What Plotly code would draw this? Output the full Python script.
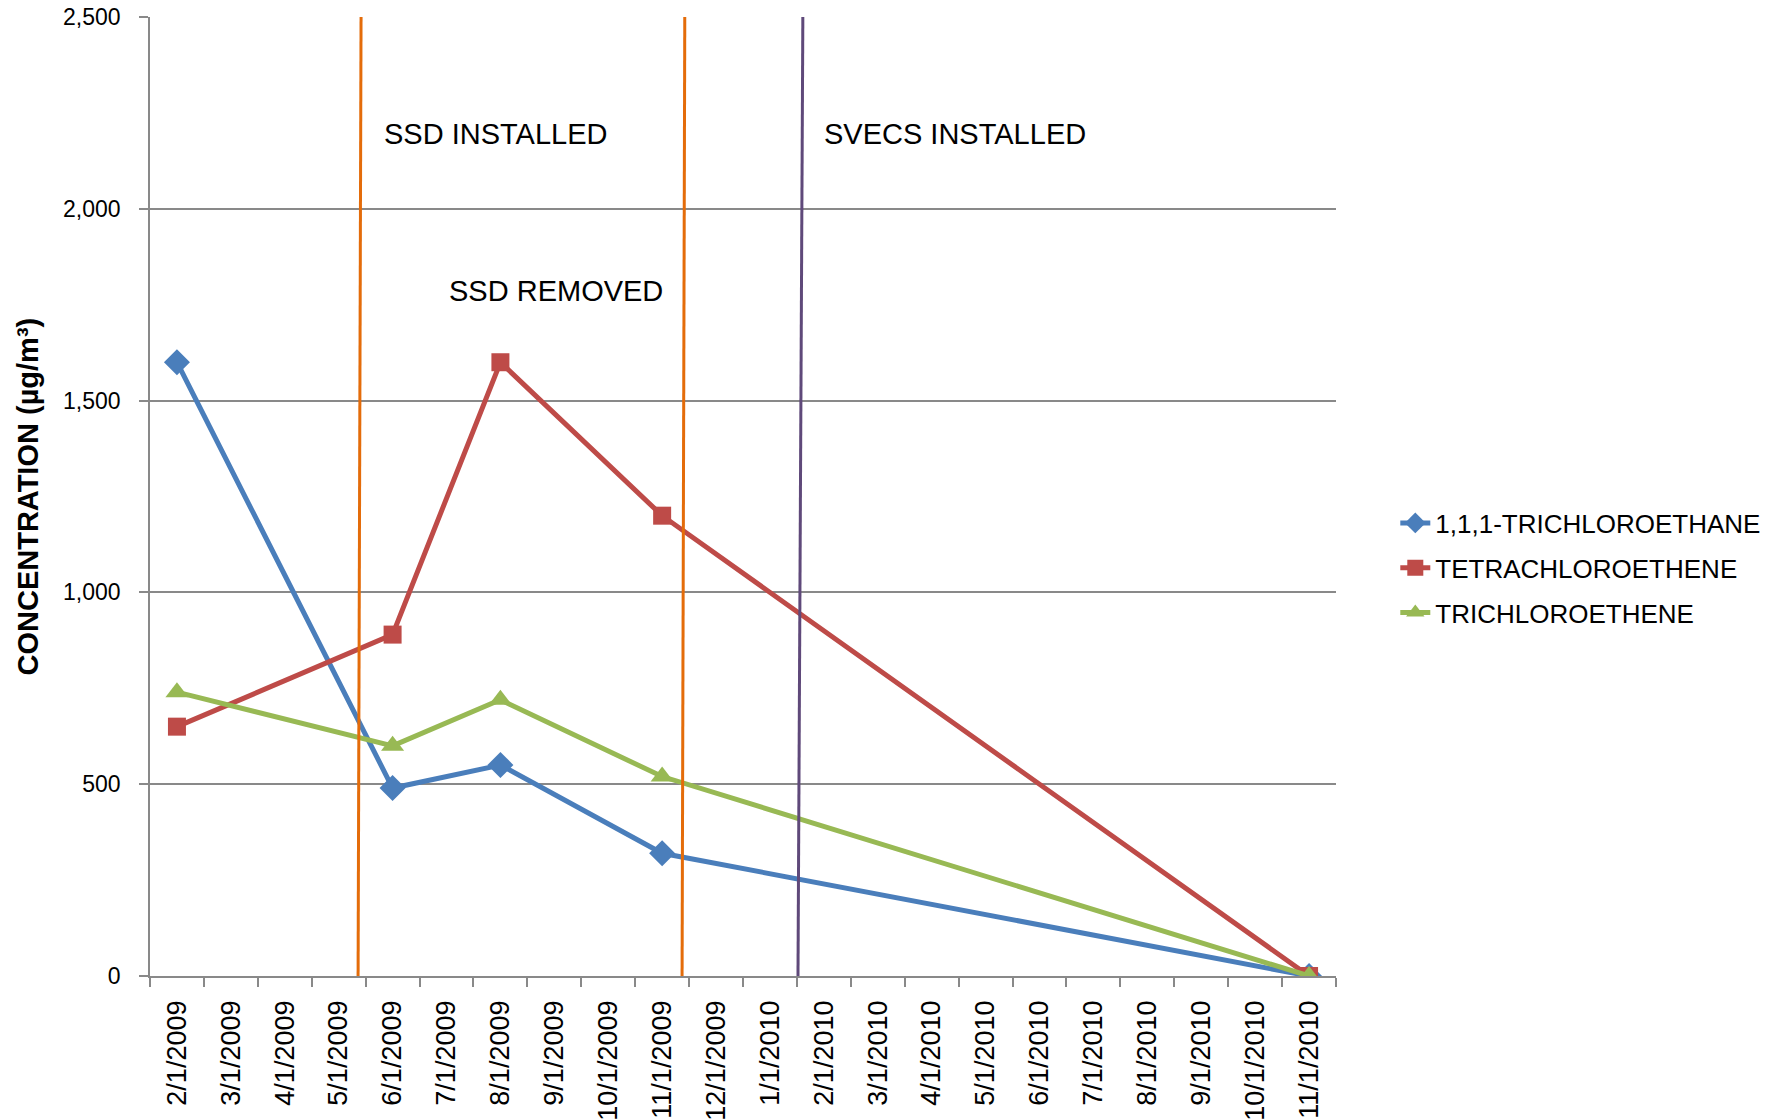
import plotly.graph_objects as go

# Monthly category labels along the x axis
month_labels = [
    "2/1/2009", "3/1/2009", "4/1/2009", "5/1/2009", "6/1/2009", "7/1/2009",
    "8/1/2009", "9/1/2009", "10/1/2009", "11/1/2009", "12/1/2009", "1/1/2010",
    "2/1/2010", "3/1/2010", "4/1/2010", "5/1/2010", "6/1/2010", "7/1/2010",
    "8/1/2010", "9/1/2010", "10/1/2010", "11/1/2010",
]

# Sampling events and measured concentrations (ug/m3)
sample_dates = ["2/1/2009", "6/1/2009", "8/1/2009", "11/1/2009", "11/1/2010"]
trichloroethane_111 = [1600, 490, 550, 320, 0]
tetrachloroethene = [650, 890, 1600, 1200, 0]
trichloroethene = [740, 600, 720, 520, 0]

series_names = ["1,1,1-TRICHLOROETHANE", "TETRACHLOROETHENE", "TRICHLOROETHENE"]
series_values = [trichloroethane_111, tetrachloroethene, trichloroethene]
series_colors = ["#4A7EBB", "#BE4B48", "#98B954"]
series_symbols = ["diamond", "square", "triangle-up"]
series_sizes = [20, 18, 20]

y_ticks = [0, 500, 1000, 1500, 2000, 2500]

# Remediation milestones: (bottom x, top x, colour) in category-index units
event_lines = [
    (3.36, 3.415, "#E46C0A"),
    (9.37, 9.42, "#E46C0A"),
    (11.52, 11.61, "#5F497A"),
]
event_labels = ["SSD INSTALLED", "SSD REMOVED", "SVECS INSTALLED"]

FONT = "Liberation Sans, Arial, sans-serif"

fig = go.Figure()

# invisible carrier so every month appears on the category axis
fig.add_trace(go.Scatter(
    x=month_labels, y=[None] * len(month_labels), mode="lines",
    showlegend=False, hoverinfo="skip",
))

for i, (name, vals, col, sym, sz) in enumerate(
        zip(series_names, series_values, series_colors, series_symbols, series_sizes)):
    fig.add_trace(go.Scatter(
        x=sample_dates, y=vals, name=name, mode="lines+markers",
        line=dict(color=col, width=5),
        marker=dict(symbol=sym, size=sz, color=col, line=dict(width=0)),
        legendgroup=f"g{i}",
    ))

for x_bot, x_top, col in event_lines:
    fig.add_shape(type="line", xref="x", yref="y",
                  x0=x_bot, y0=0, x1=x_top, y1=2500,
                  line=dict(color=col, width=3), layer="above")

label_pos = [(0.1956, 2194), (0.25, 1787), (0.5663, 2194)]
for text, (px, py) in zip(event_labels, label_pos):
    fig.add_annotation(text=text, xref="paper", yref="y", x=px, y=py,
                       xanchor="left", yanchor="middle", showarrow=False,
                       font=dict(family=FONT, size=29, color="#000000"))

# vertical axis title
fig.add_annotation(text="<b>CONCENTRATION (µg/m³)</b>", xref="paper", yref="paper",
                   x=-0.1029, y=0.5, textangle=-90, showarrow=False,
                   xanchor="center", yanchor="middle",
                   font=dict(family=FONT, size=29, color="#000000"))

fig.update_layout(
    width=1787, height=1120,
    margin=dict(l=150, r=451, t=17, b=144),
    plot_bgcolor="#FFFFFF", paper_bgcolor="#FFFFFF",
    font=dict(family=FONT, color="#000000"),
    showlegend=True,
    legend=dict(
        x=1.05, y=0.4254, xanchor="left", yanchor="middle",
        font=dict(family=FONT, size=26, color="#000000"),
        traceorder="grouped", tracegroupgap=8,
        bgcolor="rgba(0,0,0,0)", borderwidth=0,
    ),
)

fig.update_xaxes(
    type="category", categoryorder="array", categoryarray=month_labels,
    range=[-0.5, len(month_labels) - 0.5], automargin=False,
    tickson="boundaries", ticks="outside", ticklen=9, tickwidth=1.5,
    tickcolor="#898989", showline=True, linecolor="#898989", linewidth=1.5,
    showgrid=False, zeroline=False, tickangle=-90,
    tickfont=dict(family=FONT, size=27, color="#000000"),
    ticklabelstandoff=12,
)

fig.update_yaxes(
    range=[0, 2500], tickvals=y_ticks, tickformat=",", automargin=False,
    ticks="outside", ticklen=9, tickwidth=1.5, tickcolor="#898989",
    showline=True, linecolor="#898989", linewidth=1.5,
    showgrid=True, gridcolor="#898989", gridwidth=1.5, zeroline=False,
    tickfont=dict(family=FONT, size=23, color="#000000"),
    ticklabelstandoff=14,
)

fig.write_html("out.html")
